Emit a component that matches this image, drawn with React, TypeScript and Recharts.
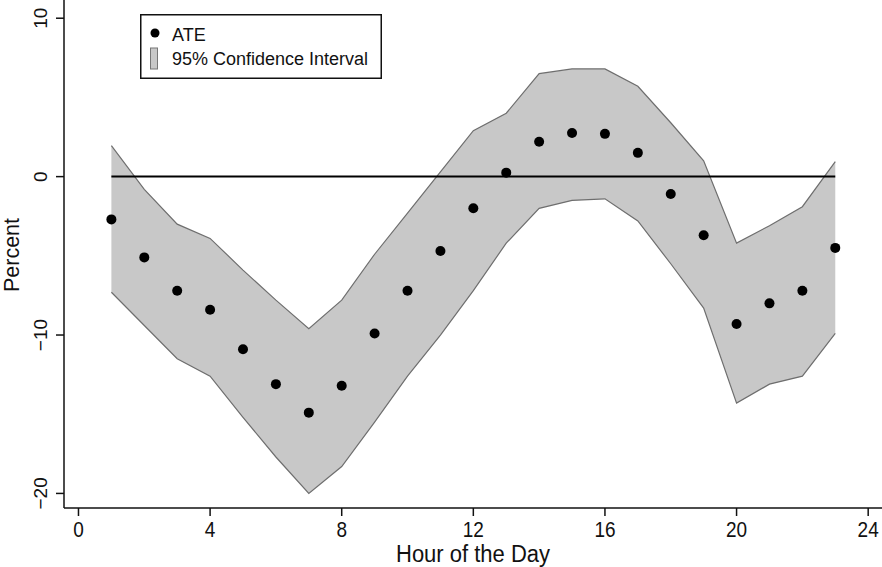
import React from 'react';
import {
  ComposedChart,
  Area,
  Line,
  XAxis,
  YAxis,
  ReferenceLine,
  Legend,
} from 'recharts';

const hours = [1, 2, 3, 4, 5, 6, 7, 8, 9, 10, 11, 12, 13, 14, 15, 16, 17, 18, 19, 20, 21, 22, 23];
const ate = [-2.7, -5.1, -7.2, -8.4, -10.9, -13.1, -14.9, -13.2, -9.9, -7.2, -4.7, -2.0, 0.25, 2.2, 2.75, 2.7, 1.5, -1.1, -3.7, -9.3, -8.0, -7.2, -4.5];
const ciLow = [-7.3, -9.4, -11.5, -12.6, -15.2, -17.7, -20.0, -18.3, -15.5, -12.6, -10.0, -7.2, -4.2, -2.0, -1.5, -1.4, -2.8, -5.5, -8.3, -14.3, -13.1, -12.6, -9.9];
const ciHigh = [1.95, -0.8, -3.0, -3.9, -5.9, -7.8, -9.6, -7.8, -4.9, -2.3, 0.3, 2.9, 4.0, 6.5, 6.8, 6.8, 5.7, 3.4, 1.0, -4.2, -3.1, -1.9, 0.95];
const xTicks = [0, 4, 8, 12, 16, 20, 24];
const yTicks = [-20, -10, 0, 10];

const data = hours.map((h, i) => ({ h, ate: ate[i], ci: [ciLow[i], ciHigh[i]] }));

const FONT = '"Liberation Sans", Arial, Helvetica, sans-serif';
const fmt = (v: number) => (v < 0 ? '\u2212' + Math.abs(v) : String(v));

const XTick = (props: any) => {
  const { x, y, payload } = props;
  return (
    <g transform={`translate(${x},${y})`}>
      <text
        x={0}
        y={16.5}
        transform="scale(1,1.15)"
        textAnchor="middle"
        fontSize={19}
        fontFamily={FONT}
        fill="#111"
      >
        {fmt(payload.value)}
      </text>
    </g>
  );
};

const YTick = (props: any) => {
  const { x, y, payload } = props;
  return (
    <g transform={`translate(${x - 7},${y}) rotate(-90)`}>
      <text x={0} y={0} textAnchor="middle" fontSize={19} fontFamily={FONT} fill="#111">
        {fmt(payload.value)}
      </text>
    </g>
  );
};

const XTitle = (props: any) => {
  const vb = props.viewBox || { x: 64, width: 818, y: 508 };
  const cx = vb.x + vb.width / 2;
  return (
    <g transform={`translate(${cx},562) scale(1,1.05)`}>
      <text x={0} y={0} textAnchor="middle" fontSize={22} fontFamily={FONT} fill="#111">
        Hour of the Day
      </text>
    </g>
  );
};

const YTitle = () => (
  <g transform="translate(19,255) rotate(-90)">
    <text x={0} y={0} textAnchor="middle" fontSize={21.5} fontFamily={FONT} fill="#111">
      Percent
    </text>
  </g>
);

const LegendBox = () => (
  <svg width={242} height={65} style={{ display: 'block' }}>
    <rect x={0.75} y={0.75} width={240.5} height={63.5} fill="#fff" stroke="#111" strokeWidth={1.5} />
    <circle cx={15} cy={19} r={4.5} fill="#000" />
    <text x={32} y={27} fontSize={18} fontFamily={FONT} fill="#111">ATE</text>
    <rect x={10.5} y={34} width={7} height={21} fill="#c8c8c8" stroke="#777" strokeWidth={1} />
    <text x={32} y={51} fontSize={18} fontFamily={FONT} fill="#111">95% Confidence Interval</text>
  </svg>
);

export default function App() {
  return (
    <div style={{ position: 'absolute', left: 0, top: 0, width: 882, height: 567, background: '#fff' }}>
      <ComposedChart
        width={882}
        height={567}
        data={data}
        margin={{ top: 0, right: 0, bottom: 0, left: 0 }}
      >
        <XAxis
          type="number"
          dataKey="h"
          domain={[-0.44, 24.42]}
          ticks={xTicks}
          allowDataOverflow
          height={59}
          tickSize={8}
          tick={<XTick />}
          axisLine={{ stroke: '#111', strokeWidth: 1.5 }}
          tickLine={{ stroke: '#111', strokeWidth: 1.5 }}
          label={<XTitle />}
          interval={0}
        />
        <YAxis
          type="number"
          domain={[-20.92, 11.15]}
          ticks={yTicks}
          allowDataOverflow
          width={64}
          tickSize={8}
          tick={<YTick />}
          axisLine={{ stroke: '#111', strokeWidth: 1.5 }}
          tickLine={{ stroke: '#111', strokeWidth: 1.5 }}
          label={<YTitle />}
          interval={0}
        />
        <Area
          dataKey="ci"
          type="linear"
          fill="#c8c8c8"
          fillOpacity={1}
          stroke="#6e6e6e"
          strokeWidth={1.2}
          isAnimationActive={false}
          activeDot={false}
          dot={false}
        />
        <ReferenceLine
          segment={[{ x: 1, y: 0 }, { x: 23, y: 0 }]}
          stroke="#000"
          strokeWidth={2}
          ifOverflow="visible"
        />
        <Line
          dataKey="ate"
          type="linear"
          stroke="none"
          dot={{ r: 5, fill: '#000', stroke: 'none' }}
          activeDot={false}
          isAnimationActive={false}
        />
        <Legend
          layout="vertical"
          align="center"
          verticalAlign="middle"
          wrapperStyle={{ position: 'absolute', left: 140, top: 14, width: 242, height: 65 }}
          content={() => <LegendBox />}
        />
      </ComposedChart>
    </div>
  );
}
